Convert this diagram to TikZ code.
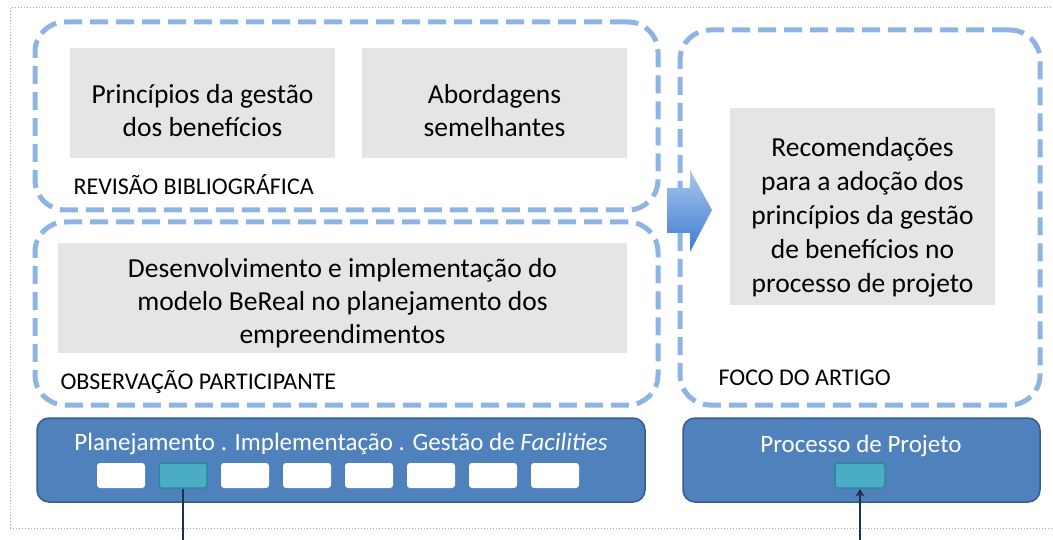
\documentclass[tikz,border=0pt]{standalone}
\usepackage{fontspec}
\setmainfont{Carlito}
\usetikzlibrary{positioning,arrows.meta}
\definecolor{dashblue}{HTML}{8EB4E3}
\definecolor{boxgrey}{HTML}{E5E5E5}
\definecolor{barblue}{HTML}{4F81BD}
\definecolor{barline}{HTML}{385D8A}
\definecolor{slotteal}{HTML}{4BACC6}
\definecolor{slotline}{HTML}{31859C}
\definecolor{arrowlight}{HTML}{A9C6EE}
\definecolor{arrowdark}{HTML}{3F7BD0}
\definecolor{linknavy}{HTML}{1F2F50}
\begin{document}
\begin{tikzpicture}[x=1pt,y=-1pt,
		group/.style={draw=dashblue,line width=5pt,dash pattern=on 18pt off 8pt,rounded corners=30pt},
		greybox/.style={fill=boxgrey},
		greytext/.style={align=center,font=\fontsize{27.5}{33}\selectfont},
		grouplabel/.style={anchor=west,font=\fontsize{24}{28}\selectfont},
		bar/.style={fill=barblue,draw=barline,line width=1.5pt,rounded corners=12pt},
		bartext/.style={text=white,font=\fontsize{25}{29}\selectfont},
		slot/.style={fill=white,rounded corners=3pt,minimum width=48pt,minimum height=25pt},
		activeslot/.style={slot,fill=slotteal,draw=slotline,line width=1.5pt}]
		\useasboundingbox (0,0) rectangle (1053,540);
		\draw [gray!70,dotted,line width=1pt] (10,528) -- (10,8) -- (1060,8);
		\draw [gray!70,dotted,line width=1pt] (10,528) -- (1060,528);

		\node [group,minimum width=623pt,minimum height=188pt] (revisao) at (346.5,116) {};
		\node [group,minimum width=623pt,minimum height=183pt] (observacao) at (346.5,313.5) {};
		\node [group,minimum width=360pt,minimum height=375pt] (foco) at (860,217.5) {};

		\node [greybox,minimum width=265pt,minimum height=110pt,label={[greytext,yshift=-8pt]center:Princípios da gestão\\dos benefícios}] (principios) at (202.5,103) {};
		\node [greybox,minimum width=265pt,minimum height=110pt,label={[greytext,yshift=-8pt]center:Abordagens\\semelhantes}] (abordagens) at (494.5,103) {};
		\node [greybox,minimum width=569pt,minimum height=110pt,label={[greytext,yshift=-5pt]center:Desenvolvimento e implementação do\\modelo BeReal no planejamento dos\\empreendimentos}] (desenvolvimento) at (342.5,298) {};
		\node [greybox,minimum width=265pt,minimum height=197pt,label={[greytext,font=\fontsize{27.5}{34}\selectfont,yshift=-11pt]center:Recomendações\\para a adoção dos\\princípios da gestão\\de benefícios no\\processo de projeto}] (recomendacoes) at (862.5,206.5) {};

		\node [grouplabel] at (70,185) {REVISÃO BIBLIOGRÁFICA};
		\node [grouplabel] at (57,382) {OBSERVAÇÃO PARTICIPANTE};
		\node [grouplabel] at (715,378) {FOCO DO ARTIGO};

		\shade [top color=arrowlight,bottom color=arrowdark] (667,188) -- (690,188) -- (690,170) -- (712,210) -- (690,252) -- (690,233) -- (667,233) -- cycle;

		\node [bar,minimum width=608pt,minimum height=84pt] (planbar) at (341,460) {};
		\node [bar,minimum width=357pt,minimum height=84pt] (procbar) at (861.5,460) {};
		\node [bartext] at (341,444) {Planejamento . Implementação . Gestão de \textit{Facilities}};
		\node [bartext] at (861,446) {Processo de Projeto};

		\foreach \i in {1,...,8} {
			\node [slot] (slot\i) at ({121+62*(\i-1)},475.5) {};
		}
		\node [activeslot] (slot2) at (183,475.5) {};
		\node [activeslot,minimum width=50pt] (procslot) at (860,475.5) {};

		\coordinate (planend) at (183,545);
		\coordinate (procstart) at (860,545);
		\draw [linknavy,line width=1.2pt] (slot2.south) -- (planend);
		\draw [linknavy,line width=1.2pt,-{Stealth[length=8pt,width=9pt]}] (procstart) -- (procslot.south);
	\end{tikzpicture}
\end{document}
